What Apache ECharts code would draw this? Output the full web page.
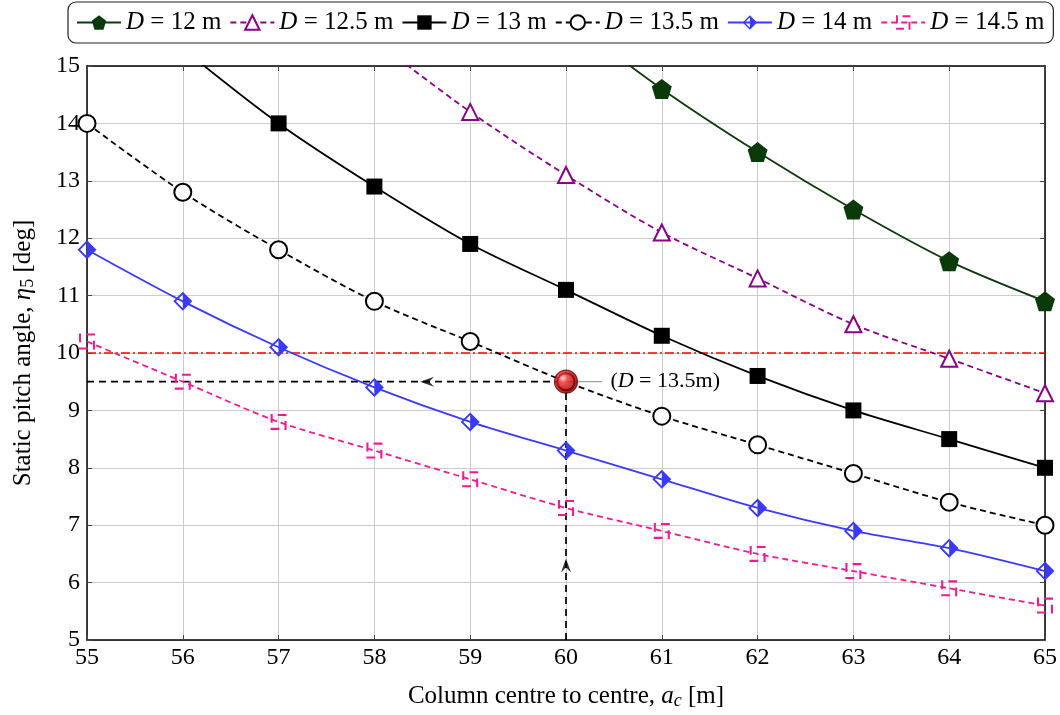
<!DOCTYPE html>
<html><head><meta charset="utf-8">
<script src="https://cdn.jsdelivr.net/npm/echarts@6/dist/echarts.min.js"></script>
<style>html,body{margin:0;padding:0;background:#fff}#c{width:1060px;height:715px}</style>
</head><body><div id="c"></div>
<script>
const xs = [55,56,57,58,59,60,61,62,63,64,65];
const yTicks = [5,6,7,8,9,10,11,12,13,14,15];
const d12   = [null,null,null,null,null,15.85,14.6,13.5,12.5,11.6,10.9];
const d125  = [null,null,null,15.45,14.2,13.1,12.1,11.3,10.5,9.9,9.3];
const d13   = [null,15.3,14.0,12.9,11.9,11.1,10.3,9.6,9.0,8.5,8.0];
const d135  = [14.0,12.8,11.8,10.9,10.2,9.5,8.9,8.4,7.9,7.4,7.0];
const d14   = [11.8,10.9,10.1,9.4,8.8,8.3,7.8,7.3,6.9,6.6,6.2];
const d145  = [10.2,9.5,8.8,8.3,7.8,7.3,6.9,6.5,6.2,5.9,5.6];
const limitPitch = 10;
const designPoint = [60, 9.5];
const leaderEnd = [60.38, 9.5];
const arrowLeft = [58.55, 9.5];
const arrowUp = [60, 6.3];
const seriesNames = ['D = 12 m','D = 12.5 m','D = 13 m','D = 13.5 m','D = 14 m','D = 14.5 m'];

const FONT = 'Liberation Serif';
const pts = arr => xs.map((x,i)=>[x,arr[i]]).filter(p=>p[1]!==null);

const pentagon = 'path://M5,0 L10,3.8 L8.1,10 L1.9,10 L0,3.8 Z';
const halfDiamond = 'path://M5,0 L10,5 L5,10 Z M5,0 L0,5 L5,10 L5,8.6 L1.4,5 L5,1.4 Z';
const dashSquare = 'path://M4.5,0 L10,0 L10,1.3 L4.5,1.3 Z M8.7,4.5 L10,4.5 L10,10 L8.7,10 Z M0,8.7 L5.5,8.7 L5.5,10 L0,10 Z M0,0 L1.3,0 L1.3,5.5 L0,5.5 Z';
const arrowL = 'path://M0,5 L10,0 L6.5,5 L10,10 Z';
const arrowU = 'path://M5,0 L10,10 L5,6.5 L0,10 Z';

function mkSeries(name, data, color, symbol, size, dashed, empty){
  return {
    name: name, type:'line', data: pts(data), smooth:0.3, clip:true,
    symbol: symbol, symbolSize: size, showAllSymbol:true,
    lineStyle:{color:color, width:1.8, type: dashed ? [6,4] : 'solid'},
    itemStyle:{color: color, borderColor: color, borderWidth: empty ? 1.7 : 0},
    z: 3
  };
}

const chart = echarts.init(document.getElementById('c'));
const axisBase = { type:'value', min:55, max:65, interval:1 };
chart.setOption({
  animation:false,
  textStyle:{fontFamily:FONT},
  legend:{
    data: seriesNames,
    top:2, left:68, width:1000,
    padding:[8,9,8,8],
    itemGap:8, itemWidth:44, itemHeight:18,
    borderColor:'#222', borderWidth:1.2, borderRadius:8,
    formatter: n => '{i|D}' + n.slice(1),
    textStyle:{fontFamily:FONT, fontSize:25, color:'#000',
      rich:{i:{fontFamily:FONT, fontSize:25, fontStyle:'italic', color:'#000'}}}
  },
  grid:{left:87, right:12, top:66, bottom:72, containLabel:false},
  xAxis:[{
    ...axisBase, position:'bottom',
    name:'Column centre to centre, {i|a}{s|c} [m]',
    nameLocation:'middle', nameGap:42,
    nameTextStyle:{fontFamily:FONT, fontSize:25, color:'#000',
      rich:{i:{fontFamily:FONT, fontSize:25, fontStyle:'italic'},
            s:{fontFamily:FONT, fontSize:18, fontStyle:'italic', padding:[10,0,0,0]}}},
    axisLine:{show:true, onZero:false, lineStyle:{color:'#000', width:1.5}},
    axisTick:{show:true, inside:true, length:5, lineStyle:{color:'#444'}},
    axisLabel:{fontFamily:FONT, fontSize:24, color:'#000', margin:6},
    splitLine:{show:true, lineStyle:{color:'#cccccc', width:1}}
  },{
    ...axisBase, position:'top',
    axisLine:{show:true, onZero:false, lineStyle:{color:'#000', width:1.5}},
    axisTick:{show:true, inside:true, length:5, lineStyle:{color:'#444'}},
    axisLabel:{show:false}, splitLine:{show:false}
  }],
  yAxis:[{
    type:'value', min:5, max:15, interval:1, position:'left',
    name:'Static pitch angle, {i|η}{s|5} [deg]',
    nameLocation:'middle', nameGap:50, nameRotate:90,
    nameTextStyle:{fontFamily:FONT, fontSize:25, color:'#000',
      rich:{i:{fontFamily:FONT, fontSize:25, fontStyle:'italic'},
            s:{fontFamily:FONT, fontSize:18, padding:[10,0,0,0]}}},
    axisLine:{show:true, onZero:false, lineStyle:{color:'#000', width:1.5}},
    axisTick:{show:true, inside:true, length:5, lineStyle:{color:'#444'}},
    axisLabel:{fontFamily:FONT, fontSize:24, color:'#000', margin:7},
    splitLine:{show:true, lineStyle:{color:'#cccccc', width:1}}
  },{
    type:'value', min:5, max:15, interval:1, position:'right',
    axisLine:{show:true, onZero:false, lineStyle:{color:'#000', width:1.5}},
    axisTick:{show:true, inside:true, length:5, lineStyle:{color:'#444'}},
    axisLabel:{show:false}, splitLine:{show:false}
  }],
  series:[
    {name:'limit', type:'line', data:[[xs[0],limitPitch],[xs[xs.length-1],limitPitch]], symbol:'none',
     lineStyle:{color:'#ff0000', width:1.7, type:[9,3,2,3]}, z:2, silent:true},
    {name:'guideH', type:'line', data:[[xs[0],designPoint[1]],designPoint], symbol:'none',
     lineStyle:{color:'#000', width:1.7, type:[7,5]}, z:2, silent:true},
    {name:'guideV', type:'line', data:[[designPoint[0],yTicks[0]],designPoint], symbol:'none',
     lineStyle:{color:'#000', width:1.7, type:[7,5]}, z:2, silent:true},
    {name:'arrows', type:'scatter', data:[
       {value:arrowLeft, symbol:arrowL, symbolSize:[14,10]},
       {value:arrowUp, symbol:arrowU, symbolSize:[10,14]}],
     itemStyle:{color:'#000'}, z:4, silent:true},
    mkSeries(seriesNames[0], d12, '#0a3a0a', pentagon, 20, false, false),
    mkSeries(seriesNames[1], d125, '#8b008b', 'emptyTriangle', 16, true, true),
    mkSeries(seriesNames[2], d13, '#000000', 'rect', 16, false, false),
    mkSeries(seriesNames[3], d135, '#000000', 'emptyCircle', 17, true, true),
    mkSeries(seriesNames[4], d14, '#3a3aff', halfDiamond, 19, false, false),
    mkSeries(seriesNames[5], d145, '#f51896', dashSquare, 16, true, false),
    {name:'leader', type:'line', data:[designPoint, leaderEnd], symbol:'none',
     lineStyle:{color:'#888', width:1}, z:5, silent:true,
     endLabel:{show:true, distance:8, formatter:'({i|D} = 13.5m)', color:'#000',
       fontFamily:FONT, fontSize:22,
       rich:{i:{fontFamily:FONT, fontSize:22, fontStyle:'italic', color:'#000'}}}},
    {name:'design', type:'scatter', data:[designPoint], symbol:'circle', symbolSize:23, z:6, silent:true,
     itemStyle:{borderColor:'#6a0000', borderWidth:1.2,
       color:{type:'radial', x:0.38, y:0.35, r:0.7, colorStops:[
         {offset:0, color:'#ffd0d0'},{offset:0.25, color:'#f03030'},
         {offset:0.7, color:'#b00000'},{offset:1, color:'#500000'}]}}}
  ]
});
</script>
</body></html>
